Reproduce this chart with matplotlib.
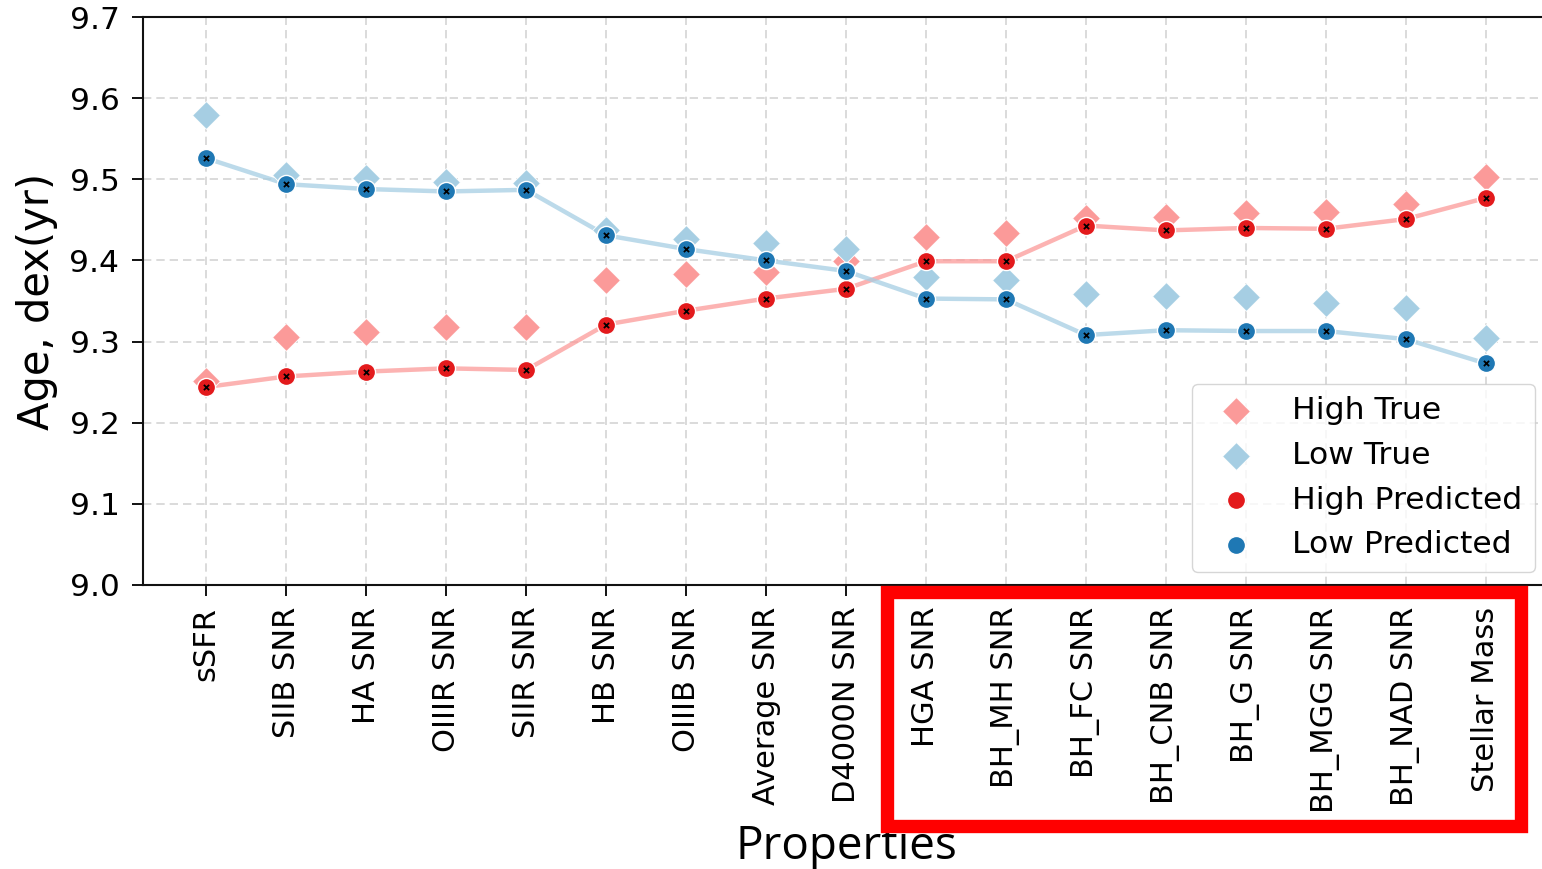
import matplotlib
matplotlib.use("Agg")
import matplotlib.pyplot as plt
import matplotlib.patches as patches

properties = ['sSFR', 'SIIB SNR', 'HA SNR', 'OIIIR SNR', 'SIIR SNR', 'HB SNR',
              'OIIIB SNR', 'Average SNR', 'D4000N SNR', 'HGA SNR', 'BH_MH SNR',
              'BH_FC SNR', 'BH_CNB SNR', 'BH_G SNR', 'BH_MGG SNR', 'BH_NAD SNR',
              'Stellar Mass']

high_true = [9.251, 9.306, 9.312, 9.318, 9.318, 9.376, 9.383, 9.386, 9.399,
             9.429, 9.434, 9.452, 9.454, 9.458, 9.460, 9.470, 9.503]
low_true = [9.579, 9.505, 9.502, 9.497, 9.495, 9.437, 9.427, 9.422, 9.414,
            9.380, 9.376, 9.359, 9.356, 9.355, 9.348, 9.341, 9.304]
high_pred = [9.244, 9.257, 9.263, 9.267, 9.265, 9.321, 9.338, 9.353, 9.365,
             9.399, 9.399, 9.443, 9.437, 9.440, 9.439, 9.451, 9.477]
low_pred = [9.526, 9.494, 9.488, 9.485, 9.487, 9.431, 9.414, 9.400, 9.387,
            9.353, 9.352, 9.308, 9.314, 9.313, 9.313, 9.303, 9.273]

yticks = [9.0, 9.1, 9.2, 9.3, 9.4, 9.5, 9.6, 9.7]

c_high_true = '#fb9a99'
c_low_true = '#a6cee3'
c_high_pred = '#e31a1c'
c_low_pred = '#1f78b4'

plt.rcParams['font.family'] = ['DejaVu Sans']

fig = plt.figure(figsize=(15.42, 8.69), dpi=100)
ax = fig.add_axes([143 / 1542, 1 - 585 / 869, (1549 - 143) / 1542, (585 - 17) / 869])

x = list(range(len(properties)))

# connecting lines for predicted values
ax.plot(x, high_pred, color=c_high_true, lw=3.2, alpha=0.75, zorder=2)
ax.plot(x, low_pred, color=c_low_true, lw=3.2, alpha=0.75, zorder=2)

# true values as diamonds
ax.scatter(x, high_true, marker='D', s=200, color=c_high_true, edgecolor='white',
           linewidth=0.6, zorder=3, label='High True')
ax.scatter(x, low_true, marker='D', s=200, color=c_low_true, edgecolor='white',
           linewidth=0.6, zorder=3, label='Low True')

# predicted values as circles
ax.scatter(x, high_pred, marker='o', s=170, color=c_high_pred, edgecolor='white',
           linewidth=1.0, zorder=4, label='High Predicted')
ax.scatter(x, low_pred, marker='o', s=170, color=c_low_pred, edgecolor='white',
           linewidth=1.0, zorder=4, label='Low Predicted')
ax.scatter(x, high_pred, marker='x', s=14, color='black', linewidth=1.3, zorder=5)
ax.scatter(x, low_pred, marker='x', s=14, color='black', linewidth=1.3, zorder=5)

ax.set_xlim(-0.79, 16.79)
ax.set_ylim(9.0, 9.7)
ax.set_yticks(yticks)
ax.set_yticklabels([f'{v:.1f}' for v in yticks])
ax.set_xticks(x)
ax.set_xticklabels(properties, rotation=90)

ax.grid(True, linestyle=(0, (5, 3)), color='#d4d4d4', linewidth=1.2, zorder=0)
ax.set_axisbelow(True)

for side in ['left', 'bottom', 'top', 'right']:
    ax.spines[side].set_linewidth(1.5)
    ax.spines[side].set_color('#111111')

ax.tick_params(axis='both', length=8, width=1.4, color='#111111')
ax.tick_params(axis='x', labelsize=22, pad=7.5)
ax.tick_params(axis='y', labelsize=22.5, pad=9)

ax.set_ylabel('Age, dex(yr)', fontsize=30, labelpad=8)
ax.set_xlabel('Properties', fontsize=33, family=['Open Sans', 'DejaVu Sans'], labelpad=8)

ax.legend(loc='lower right', bbox_to_anchor=(0.990, 0.023), borderaxespad=0,
          fontsize=22.6, frameon=True, framealpha=0.8)

# highlight box around the last group of property labels
rect = patches.Rectangle((887 / 1542, 1 - 826 / 869), (1521 - 887) / 1542, (826 - 592) / 869,
                         transform=fig.transFigure, fill=False, edgecolor='#ff0000',
                         linewidth=9.6, zorder=10)
fig.add_artist(rect)

fig.savefig('out.png', dpi=100)
